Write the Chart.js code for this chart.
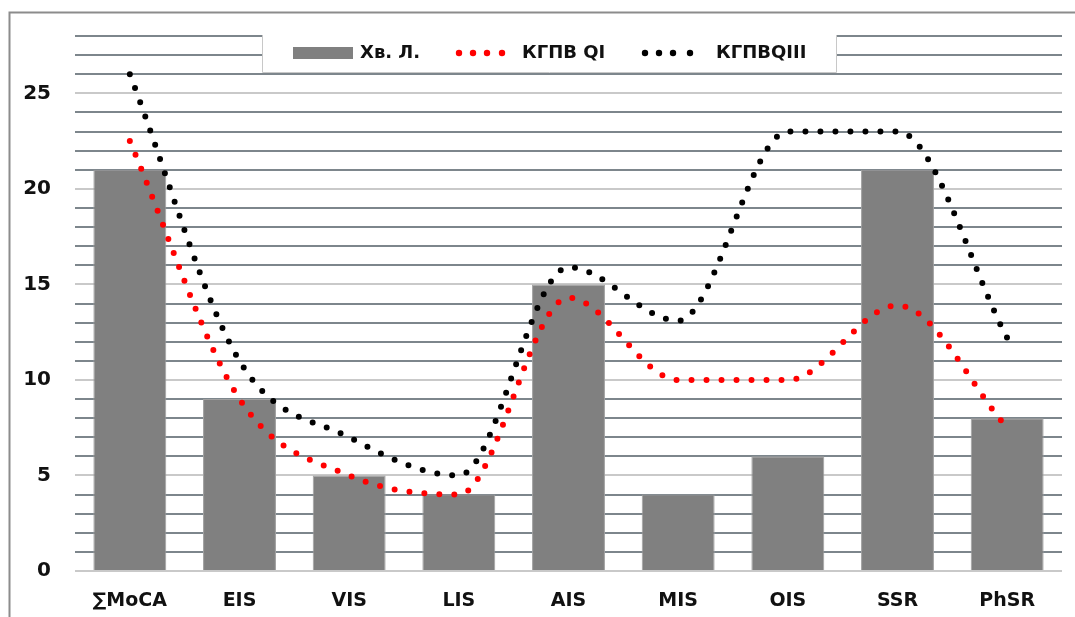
<!DOCTYPE html>
<html>
<head>
<meta charset="utf-8">
<script src="https://cdn.jsdelivr.net/npm/chart.js@4/dist/chart.umd.min.js"></script>
<style>
  body { margin: 0; background: #fff; }
  #wrap { position: relative; width: 1075px; height: 617px; }
</style>
</head>
<body>
<div id="wrap"><canvas id="myChart" width="1075" height="617"></canvas></div>
<script>
// categories and values
const categories = ["∑MoCA", "EIS", "VIS", "LIS", "AIS", "MIS", "OIS", "SSR", "PhSR"];
const patientL = [21, 9, 5, 4, 15, 4, 6, 21, 8];
const groupQI = [22.5, 9, 5, 4, 14.3, 10, 10, 13.9, 7.5];
const groupQIII = [26, 11, 7, 5, 15.9, 13.1, 23, 23, 12.2];
const legendNames = ["Хв. Л.", "КГПВ QI", "КГПВQIII"];

const font = "'DejaVu Sans', 'Liberation Sans', sans-serif";

// outer frame (left and top edges only visible)
const framePlugin = {
    id: "frame",
    beforeDraw(chart){
        const ctx = chart.ctx;
        ctx.save();
        ctx.strokeStyle = "#8c8c8c";
        ctx.lineWidth = 2;
        ctx.beginPath();
        ctx.moveTo(9.5, 617);
        ctx.lineTo(9.5, 12.5);
        ctx.lineTo(1075, 12.5);
        ctx.stroke();
        ctx.restore();
    }
};

// legend box sitting on top of the grid
const legendBox = {
    id: "legendBox",
    afterDraw(chart){
        const ctx = chart.ctx;
        const x0 = 262, x1 = 836, y0 = 35, y1 = 72, cy = 53;
        ctx.save();
        ctx.fillStyle = "#fff";
        ctx.fillRect(x0, y0, x1 - x0, y1 - y0);
        ctx.strokeStyle = "#c8c8c8";
        ctx.lineWidth = 1;
        ctx.beginPath();
        ctx.moveTo(x0 + 0.5, y0);
        ctx.lineTo(x0 + 0.5, y1 + 0.5);
        ctx.lineTo(x1 + 0.5, y1 + 0.5);
        ctx.lineTo(x1 + 0.5, y0);
        ctx.stroke();

        ctx.fillStyle = "#808080";
        ctx.fillRect(293, 47, 60, 12);

        const dots = (xs, color) => {
            ctx.fillStyle = color;
            xs.forEach(x => {
                ctx.beginPath();
                ctx.arc(x, cy, 3.2, 0, Math.PI * 2);
                ctx.fill();
            });
        };
        dots([459, 473, 487, 502], "#ff0000");
        dots([645, 659, 673, 690], "#000000");

        ctx.fillStyle = "#111";
        ctx.font = "bold 18px " + font;
        ctx.textBaseline = "middle";
        ctx.textAlign = "left";
        ctx.fillText(legendNames[0], 360, cy);
        ctx.fillText(legendNames[1], 522, cy);
        ctx.fillText(legendNames[2], 716, cy);
        ctx.restore();
    }
};

new Chart("myChart", {
    type: "bar",
    data: {
        labels: categories,
        datasets: [{
            type: "line",
            label: legendNames[2],
            data: groupQIII,
            borderColor: "#000000",
            borderWidth: 6,
            borderDash: [0, 15],
            borderCapStyle: "round",
            cubicInterpolationMode: "monotone",
            pointRadius: 0,
            fill: false,
            order: 0
        }, {
            type: "line",
            label: legendNames[1],
            data: groupQI,
            borderColor: "#ff0000",
            borderWidth: 6,
            borderDash: [0, 15],
            borderCapStyle: "round",
            cubicInterpolationMode: "monotone",
            pointRadius: 0,
            fill: false,
            order: 1
        }, {
            label: legendNames[0],
            data: patientL,
            backgroundColor: "#808080",
            borderColor: "#a0a0a0",
            borderWidth: 1,
            barPercentage: 0.665,
            categoryPercentage: 1,
            order: 2
        }]
    },
    options: {
        responsive: false,
        devicePixelRatio: 1,
        animation: false,
        layout: { padding: { top: 34, right: 13, left: 0, bottom: 0 } },
        plugins: {
            legend: { display: false },
            tooltip: { enabled: false }
        },
        scales: {
            x: {
                grid: { display: false },
                border: { display: false },
                ticks: {
                    color: "#111",
                    padding: 11,
                    font: { family: font, weight: "bold", size: 19 }
                },
                afterFit(scale){ scale.height = 46; }
            },
            y: {
                min: 0,
                max: 28,
                border: { display: false },
                grid: {
                    drawTicks: false,
                    lineWidth: 2,
                    color: c => (c.tick && c.tick.value % 5 === 0) ? "#c9c9c9" : "#7d868c"
                },
                ticks: {
                    stepSize: 1,
                    maxTicksLimit: 40,
                    autoSkip: false,
                    padding: 24,
                    color: "#111",
                    font: { family: font, weight: "bold", size: 20 },
                    callback: v => (v % 5 === 0 ? v : "")
                },
                afterFit(scale){ scale.width = 75; }
            }
        }
    },
    plugins: [framePlugin, legendBox]
});
</script>
</body>
</html>
